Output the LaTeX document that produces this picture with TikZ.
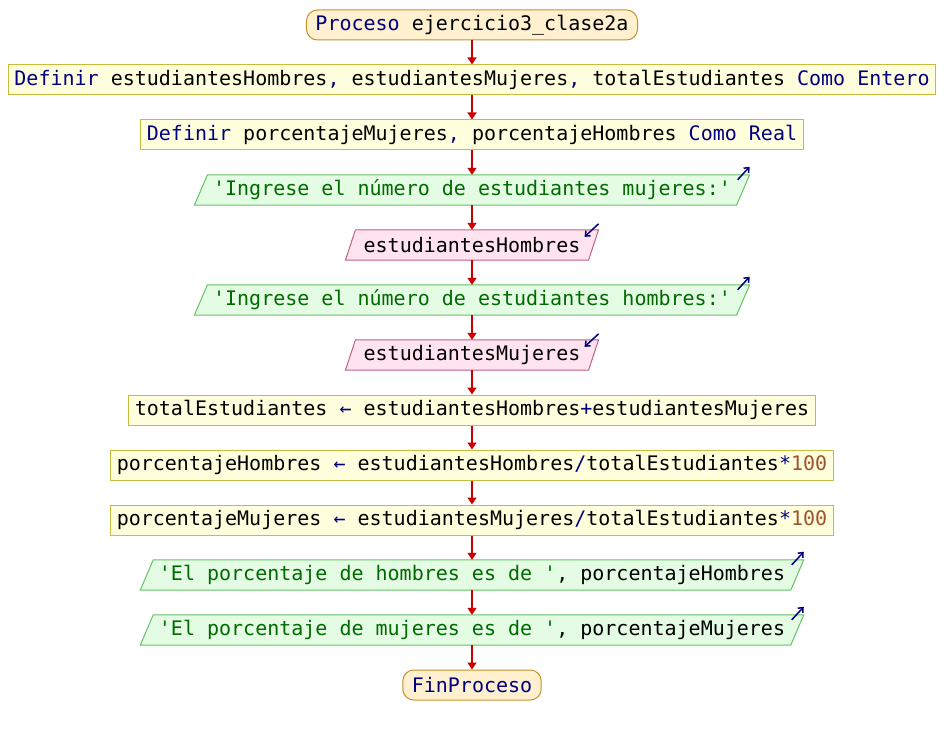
\documentclass[tikz,border=0pt]{standalone}
\usepackage{fontspec}
\setmonofont{DejaVu Sans Mono}
\usetikzlibrary{arrows.meta,backgrounds}
\definecolor{kwc}{HTML}{000080}
\definecolor{strc}{HTML}{006A00}
\definecolor{numc}{HTML}{A0522D}
\definecolor{rectfill}{HTML}{FFFFDD}
\definecolor{rectline}{HTML}{C8BC3C}
\definecolor{grfill}{HTML}{E4FCE4}
\definecolor{grline}{HTML}{66C266}
\definecolor{pkfill}{HTML}{FFE4F0}
\definecolor{pkline}{HTML}{C06088}
\definecolor{tmfill}{HTML}{FFF0D0}
\definecolor{tmline}{HTML}{C8902C}
\definecolor{flowc}{HTML}{CC0000}
\newcommand{\pkw}[1]{\textcolor{kwc}{#1}}
\newcommand{\pstr}[1]{\textcolor{strc}{#1}}
\newcommand{\pnum}[1]{\textcolor{numc}{#1}}
\tikzset{
  base/.style={font=\ttfamily\fontsize{20}{24}\selectfont, minimum height=30pt, inner ysep=0pt, anchor=center},
  termbox/.style={base, draw=tmline, fill=tmfill, line width=1pt, rounded corners=11pt, inner xsep=9pt},
  procbox/.style={base, draw=rectline, fill=rectfill, line width=1pt, inner xsep=6pt},
  outbox/.style={base, inner xsep=12pt},
  inbox/.style={base, inner xsep=13pt},
  flow/.style={draw=flowc, line width=1.5pt, -{Triangle[width=9pt,length=7pt]}},
  icon/.style={draw=kwc, line width=1.5pt, -{Straight Barb[width=7pt,length=4pt]}},
  outshape/.style={fill=grfill, draw=grline, line width=1pt},
  inshape/.style={fill=pkfill, draw=pkline, line width=1pt}
}
\newcommand{\outpara}[1]{%
  \path[outshape] ([xshift=-6.5pt]#1.south west) -- ([xshift=6.5pt]#1.north west) -- ([xshift=6.5pt]#1.north east) -- ([xshift=-6.5pt]#1.south east) -- cycle;}
\newcommand{\inpara}[1]{%
  \path[inshape] ([xshift=-5pt]#1.south west) -- ([xshift=5pt]#1.north west) -- ([xshift=5pt]#1.north east) -- ([xshift=-5pt]#1.south east) -- cycle;}
\begin{document}
\begin{tikzpicture}[x=1pt,y=-1pt]
\useasboundingbox (0,0) rectangle (944,735);
\node[termbox] (n1) at (472,25) {\pkw{Proceso} ejercicio3\_clase2a};
\node[procbox] (n2) at (472,80) {\pkw{Definir} estudiantesHombres\pkw{,} estudiantesMujeres\pkw{,} totalEstudiantes \pkw{Como Entero}};
\node[procbox] (n3) at (472,135) {\pkw{Definir} porcentajeMujeres\pkw{,} porcentajeHombres \pkw{Como Real}};
\node[outbox] (n4) at (472,190) {\pstr{'Ingrese el número de estudiantes mujeres:'}};
\node[inbox] (n5) at (472,245) {estudiantesHombres};
\node[outbox] (n6) at (472,300) {\pstr{'Ingrese el número de estudiantes hombres:'}};
\node[inbox] (n7) at (472,355) {estudiantesMujeres};
\node[procbox] (n8) at (472,410) {totalEstudiantes \pkw{←} estudiantesHombres\pkw{+}estudiantesMujeres};
\node[procbox] (n9) at (472,465) {porcentajeHombres \pkw{←} estudiantesHombres\pkw{/}totalEstudiantes\pkw{*}\pnum{100}};
\node[procbox] (n10) at (472,520) {porcentajeMujeres \pkw{←} estudiantesMujeres\pkw{/}totalEstudiantes\pkw{*}\pnum{100}};
\node[outbox] (n11) at (472,575) {\pstr{'El porcentaje de hombres es de '}, porcentajeHombres};
\node[outbox] (n12) at (472,630) {\pstr{'El porcentaje de mujeres es de '}, porcentajeMujeres};
\node[termbox] (n13) at (472,685) {\pkw{FinProceso}};
\begin{pgfonlayer}{background}
\outpara{n4}
\inpara{n5}
\outpara{n6}
\inpara{n7}
\outpara{n11}
\outpara{n12}
\end{pgfonlayer}
\foreach \a/\b in {n1/n2,n2/n3,n3/n4,n4/n5,n5/n6,n6/n7,n7/n8,n8/n9,n9/n10,n10/n11,n11/n12,n12/n13}
  \draw[flow] (\a.south) -- (\b.north);
\foreach \n in {n4,n6,n11,n12}
  \draw[icon] ([shift={(-5.5,5)}]\n.north east) -- ([shift={(6.5,-8)}]\n.north east);
\foreach \n in {n5,n7}
  \draw[icon] ([shift={(5,-6)}]\n.north east) -- ([shift={(-9,7)}]\n.north east);
\end{tikzpicture}
\end{document}
